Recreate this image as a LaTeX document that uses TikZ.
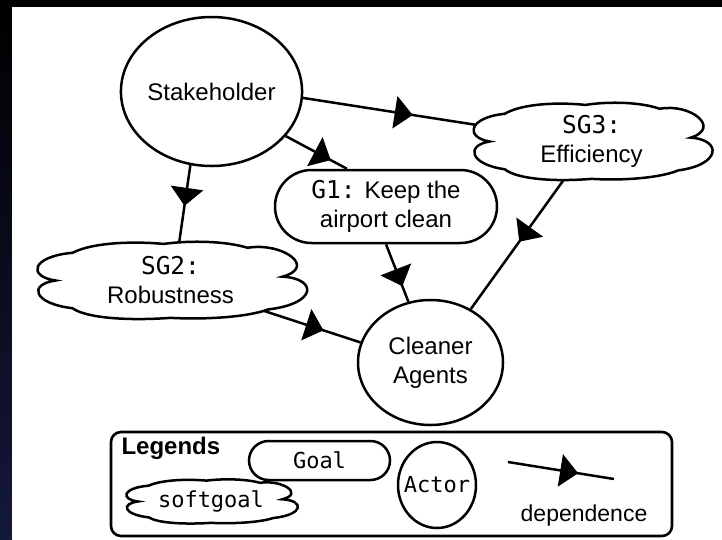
\documentclass[tikz,border=0pt]{standalone}
\usepackage{fontspec}
\setmainfont{Liberation Sans}
\newfontfamily\mono{DejaVu Sans Mono}
\usetikzlibrary{shapes.geometric,shapes.misc,decorations.markings}
\definecolor{edgeblue}{RGB}{20,24,58}
\tikzset{
  ink/.style={line width=2.5pt},
  actor/.style={ellipse, draw, ink, fill=white, inner sep=0pt},
  goal/.style={rounded rectangle, draw, ink, fill=white, inner sep=0pt},
  % invisible core of a softgoal: connectors end inside it, the cloud covers them
  sgcore/.style={ellipse, inner sep=0pt},
  txt/.style={align=center, font=\fontsize{24}{29}\selectfont},
  mtxt/.style={font=\mono\fontsize{24.5}{29}\selectfont},
  legtxt/.style={font=\mono\fontsize{22}{25}\selectfont},
  dep/.style={ink, decoration={markings,
      mark=at position #1 with {\fill (0,16.5) -- (18,0) -- (0,-16.5) -- cycle;}},
      postaction={decorate}},
}
\newcommand\mtt[1]{{\mono\fontsize{24.5}{29}\selectfont #1}}
% cloud outline: #1 centre, #2 half width, #3 half height (in pt)
\newcommand\sgcloud[3]{%
  \begin{scope}[shift={(#1)}, x=#2pt, y=-#3pt]
    \draw[ink, fill=white]
      (-0.82,0) .. controls (-1.02,-0.1) and (-1.0,-0.62) .. (-0.7,-0.72)
      .. controls (-0.55,-1.0) and (-0.25,-1.02) .. (-0.05,-0.95)
      .. controls (0.15,-1.05) and (0.4,-1.02) .. (0.55,-0.85)
      .. controls (0.8,-1.0) and (1.05,-0.35) .. (0.80,-0.1)
      .. controls (1.05,-0.05) and (1.05,0.6) .. (0.70,0.75)
      .. controls (0.55,0.95) and (0.25,1.02) .. (0.0,0.97)
      .. controls (-0.3,1.05) and (-0.6,0.98) .. (-0.7,0.72)
      .. controls (-0.98,0.6) and (-1.02,0.1) .. cycle;
  \end{scope}}
\begin{document}
\begin{tikzpicture}[x=1pt,y=-1pt]
  % frame
  \fill[black] (0,0) rectangle (722,539);
  \shade[top color=black, bottom color=edgeblue] (0,0) rectangle (12,539);
  \fill[white] (12,7) rectangle (722,539);
  \useasboundingbox (0,0) rectangle (722,539);

  % actors and intentional elements
  \node[actor, minimum width=155, minimum height=149, txt] (S) at (211.5,91.5) {Stakeholder};
  \node[sgcore, minimum width=194, minimum height=60] (SG3) at (591.5,141.5) {};
  \node[goal, minimum width=222, minimum height=73, txt] (G1) at (386,206.5)
        {\mtt{G1:} Keep the\\airport clean};
  \node[sgcore, minimum width=220, minimum height=60] (SG2) at (170.5,280.5) {};
  \node[actor, minimum width=145, minimum height=125, txt] (CA) at (430.5,362.5) {Cleaner\\Agents};

  % dependencies
  \draw[dep=93pt]   (S.-4) -- (SG3.172);
  \draw[dep=33pt]   (S.-31) -- (G1.136);
  \draw[dep=23pt]   (S.-106) -- (SG2.76);
  \draw[dep=27pt]   (G1.south) -- (CA.110);
  \draw[dep=-101pt] (SG3.-126) -- (CA.53);
  \draw[dep=-57pt]  (SG2.-18) -- (CA.164);

  % softgoal clouds over the connector ends
  \sgcloud{SG3.center}{124}{38.5}
  \node[txt] (SG3t) at (SG3.center) {\mtt{SG3:}\\Efficiency};
  \sgcloud{SG2.center}{140}{38.5}
  \node[txt] (SG2t) at (SG2.center) {\mtt{SG2:}\\Robustness};

  % legend
  \node[draw, line width=2.6pt, rounded corners=10pt, minimum width=561, minimum height=104]
        (LG) at (391.5,484) {};
  \node[anchor=west, font=\bfseries\fontsize{24}{28}\selectfont] (LT) at (118,448) {Legends};
  \node[goal, minimum width=141, minimum height=39, legtxt] (LGoal) at (319.5,460.5) {Goal};
  \sgcloud{211,501.5}{89}{22}
  \node[legtxt] (LSoft) at (211,501.5) {softgoal};
  \node[actor, minimum width=78, minimum height=86,
        label={[legtxt]center:Actor}] (LActor) at (437,485) {};
  \coordinate (dA) at (508,462);
  \coordinate (dB) at (614,479);
  \draw[dep=53pt] (dA) -- (dB);
  \node[font=\fontsize{23}{26}\selectfont] (LDep) at (584,516) {dependence};
\end{tikzpicture}
\end{document}
